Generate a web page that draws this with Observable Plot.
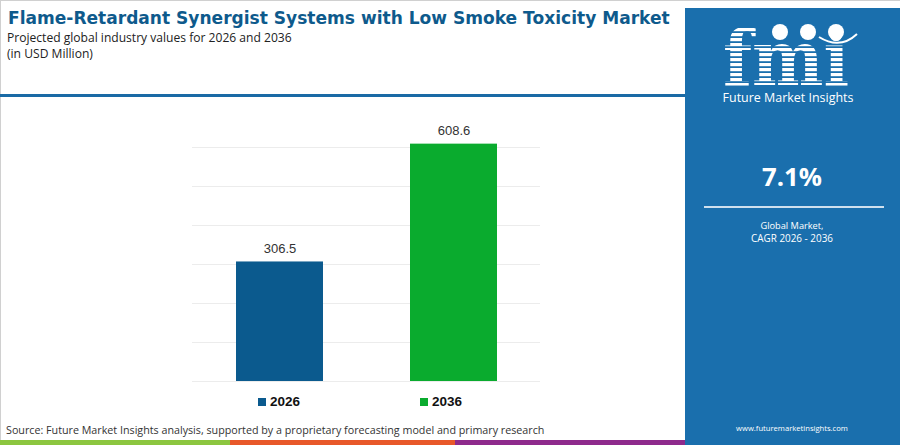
<!DOCTYPE html>
<html><head><meta charset="utf-8">
<script src="https://cdn.jsdelivr.net/npm/d3@7"></script>
<script src="https://cdn.jsdelivr.net/npm/@observablehq/plot@0.6"></script>
<style>
html,body{margin:0;padding:0;background:#fff;}
#page{position:relative;width:900px;height:445px;overflow:hidden;background:#fff;font-family:"Open Sans",sans-serif;}
.t{position:absolute;white-space:nowrap;line-height:1;transform:translateY(-50%);}
.c{transform:translate(-50%,-50%);}
</style></head>
<body><div id="page"></div>
<script>
const years = ["2026", "2036"];
const values = [306.5, 608.6];
const barColors = ["#0b5a8e", "#0aab2e"];
const gridTicks = [0, 100, 200, 300, 400, 500, 600];
const cagr = "7.1%";
const titleText = "Flame-Retardant Synergist Systems with Low Smoke Toxicity Market";
const subtitleText = "Projected global industry values for 2026 and 2036";
const unitText = "(in USD Million)";
const sourceText = "Source: Future Market Insights analysis, supported by a proprietary forecasting model and primary research";

const data = years.map((y, i) => ({year: y, value: values[i]}));
const page = document.getElementById("page");

function addText(txt, opts) {
  const d = document.createElement("div");
  d.className = "t" + (opts.center ? " c" : "");
  d.textContent = txt;
  d.style.left = opts.x + "px";
  d.style.top = opts.y + "px";
  d.style.fontSize = opts.size + "px";
  d.style.color = opts.color || "#222";
  if (opts.weight) d.style.fontWeight = opts.weight;
  if (opts.family) d.style.fontFamily = opts.family;
  page.appendChild(d);
  if (opts.w) {
    const w = d.getBoundingClientRect().width;
    d.style.fontSize = (opts.size * opts.w / w) + "px";
  }
  return d;
}
function addBox(x, y, w, h, bg, extra) {
  const d = document.createElement("div");
  d.style.cssText = `position:absolute;left:${x}px;top:${y}px;width:${w}px;height:${h}px;background:${bg};${extra||""}`;
  page.appendChild(d);
  return d;
}

// outer border
addBox(0, 0, 899, 444, "transparent", "border:1px solid #d0d0d0;");
// header text
addText(titleText, {x: 8, y: 19, size: 20, weight: 700, color: "#0e5a8c", family: "'DejaVu Sans', sans-serif", w: 662});
addText(subtitleText, {x: 7, y: 37.5, size: 13, color: "#222", w: 285});
addText(unitText, {x: 7, y: 53.5, size: 13, color: "#222", w: 86});
// separator line
addBox(0, 94, 685, 3, "#1a6aa5");

// right panel
addBox(685, 8, 215, 437, "#1a6fad");
const svgNS = "http://www.w3.org/2000/svg";
const logo = document.createElementNS(svgNS, "svg");
logo.setAttribute("width", 215); logo.setAttribute("height", 79);
logo.style.cssText = "position:absolute;left:685px;top:8px;overflow:visible;";
logo.innerHTML = `
<defs><pattern id="st" width="10" height="5" patternUnits="userSpaceOnUse">
<rect width="10" height="3.2" fill="#fff"/></pattern></defs>
<text x="38" y="77" font-family="DejaVu Serif" font-weight="700" font-size="76" textLength="126" lengthAdjust="spacingAndGlyphs" fill="url(#st)">fmi</text>
<circle cx="95" cy="24" r="8" fill="#fff"/><circle cx="123" cy="24" r="8" fill="#fff"/><circle cx="151" cy="24" r="8" fill="#fff"/>
<path d="M134 29 Q155 42 172 26" stroke="#fff" stroke-width="2" fill="none"/>`;
page.appendChild(logo);
addText("Future Market Insights", {x: 788, y: 97.5, size: 15, color: "#fff", center: true, w: 131});
addText(cagr, {x: 792, y: 177, size: 28, weight: 700, color: "#fff", center: true, w: 60});
addBox(704, 206, 180, 2, "#cfe0ee");
addText("Global Market,", {x: 792, y: 226, size: 11, color: "#fff", center: true, w: 63});
addText("CAGR 2026 - 2036", {x: 792, y: 239, size: 11, color: "#fff", center: true, w: 82});
addText("www.futuremarketinsights.com", {x: 792, y: 429, size: 11, color: "#fff", center: true, w: 112});

// chart
const chart = Plot.plot({
  width: 380, height: 280,
  marginLeft: 12, marginRight: 20, marginTop: 37, marginBottom: 9,
  x: {domain: years, paddingInner: 0.5, paddingOuter: 0.25, axis: null},
  y: {domain: [0, 600], axis: null},
  color: {domain: years, range: barColors},
  style: {background: "transparent", fontFamily: "Liberation Sans, Arial, sans-serif"},
  marks: [
    Plot.ruleY(gridTicks, {stroke: "#ececec", strokeWidth: 1.2}),
    Plot.barY(data, {x: "year", y: "value", fill: "year"}),
    Plot.text(data, {x: "year", y: "value", text: d => d.value.toFixed(1), dy: -13, fontSize: 13, fill: "#333"})
  ]
});
chart.style.position = "absolute";
chart.style.left = "180px";
chart.style.top = "110px";
page.appendChild(chart);

// legend
const legend = document.createElement("div");
legend.style.cssText = "position:absolute;left:0;top:394px;width:680px;height:16px;font-family:'Liberation Sans',Arial,sans-serif;font-weight:700;font-size:13.5px;color:#111;";
const legX = [258, 420];
years.forEach((y, i) => {
  const sw = document.createElement("div");
  sw.style.cssText = `position:absolute;left:${legX[i]}px;top:4px;width:8px;height:8px;background:${barColors[i]};`;
  legend.appendChild(sw);
  const lt = document.createElement("div");
  lt.style.cssText = `position:absolute;left:${legX[i] + 12}px;top:0px;line-height:16px;`;
  lt.textContent = y;
  legend.appendChild(lt);
});
page.appendChild(legend);

// source
addText(sourceText, {x: 6, y: 430, size: 12.5, color: "#333", w: 539});

// bottom strip
addBox(0, 440, 230, 5, "#8cc63f");
addBox(230, 440, 225, 5, "#e8582a");
addBox(455, 440, 230, 5, "#8e2a8c");
</script>
</body></html>
